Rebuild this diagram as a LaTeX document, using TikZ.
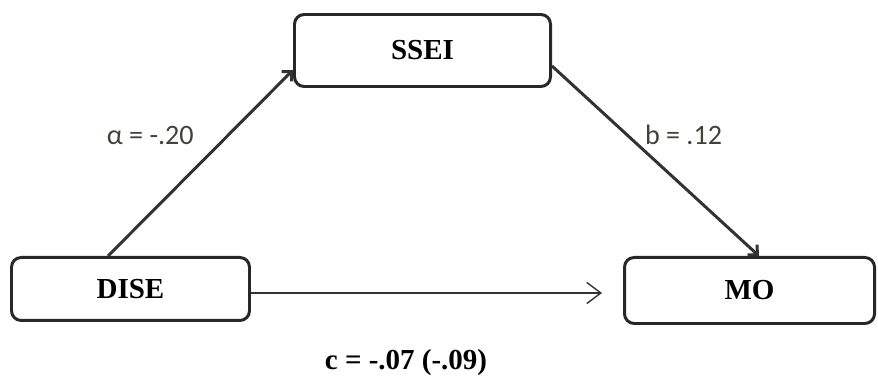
\documentclass[tikz,border=0pt]{standalone}
\usepackage{fontspec}
\setmainfont{Liberation Serif}
\newfontfamily\coeffont{Carlito}
\usetikzlibrary{arrows.meta, positioning, calc}
\definecolor{boxline}{RGB}{40,40,40}
\definecolor{pathline}{RGB}{50,50,50}
\definecolor{coefgray}{RGB}{66,66,56}

\begin{document}
\begin{tikzpicture}[
      var/.style={rectangle, draw=boxline, line width=1.7pt, rounded corners=5.5pt, align=center, fill=white, font=\fontsize{16.5}{19}\selectfont\bfseries},
      mediation/.style={-{Straight Barb[length=4pt,width=8pt]}, line width=1.7pt, draw=pathline},
      direct/.style={-{Straight Barb[length=8pt,width=12pt]}, line width=0.8pt, draw=pathline},
      coef/.style={inner sep=0pt, text=coefgray, font=\coeffont\fontsize{16}{19}\selectfont}
    ]
    \useasboundingbox (0,0) rectangle (17.56,-7.62);

    \node[var, minimum width=5.12cm, minimum height=1.44cm] (ssei) at (8.45,-1.01) {SSEI};
    \node[var, minimum width=4.76cm, minimum height=1.26cm, below=3.36cm of ssei, xshift=-5.84cm] (dise) {DISE};
    \node[var, minimum width=5.0cm, minimum height=1.32cm, below=3.36cm of ssei, xshift=6.54cm] (mo) {MO};

    \draw[mediation] ([xshift=-0.45cm]dise.north) -- node[coef, pos=0.65, left=0.66cm] {α = -.20} ([yshift=-0.39cm]ssei.west);
    \draw[mediation] ([yshift=-0.31cm]ssei.east) -- node[coef, pos=0.36, right=0.34cm] {b = .12} ([xshift=0.19cm]mo.north);

    \coordinate (cstart) at ([yshift=-0.08cm]dise.east);
    \draw[direct, shorten >=0.42cm] (cstart) -- (cstart -| mo.west);

    \node[font=\fontsize{16.5}{19}\selectfont\bfseries] (ceff) at (8.12,-7.26) {c = -.07 (-.09)};
  \end{tikzpicture}
\end{document}
